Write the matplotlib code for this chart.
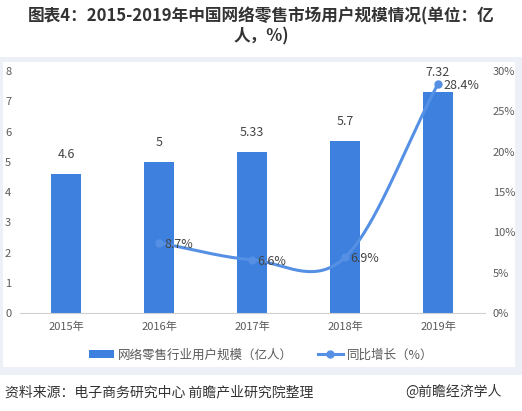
import numpy as np
import matplotlib
matplotlib.use("Agg")
import matplotlib.pyplot as plt
from matplotlib.patches import Rectangle
from matplotlib.lines import Line2D
from matplotlib.patches import Patch

plt.rcParams['font.family'] = ['Noto Sans CJK SC', 'DejaVu Sans']

years = ['2015年', '2016年', '2017年', '2018年', '2019年']
users = [4.6, 5, 5.33, 5.7, 7.32]
user_labels = ['4.6', '5', '5.33', '5.7', '7.32']
growth_years_idx = [1, 2, 3, 4]
growth = [8.7, 6.6, 6.9, 28.4]
growth_labels = ['8.7%', '6.6%', '6.9%', '28.4%']
left_ticks = [0, 1, 2, 3, 4, 5, 6, 7, 8]
right_ticks = [0, 5, 10, 15, 20, 25, 30]

bar_color = '#3d80de'
line_color = '#5590e4'
text_color = '#5a5a5a'

W, H = 522, 411
fig = plt.figure(figsize=(W / 100, H / 100), dpi=100)

# panel background
bg = fig.add_axes([0, 0, 1, 1], zorder=-10)
bg.set_xlim(0, W)
bg.set_ylim(H, 0)
bg.axis('off')
bg.add_patch(Rectangle((0, 57), W, 375 - 57, facecolor='#edf1f7', edgecolor='none'))
bg.add_patch(Rectangle((3, 62), 515 - 3, 367 - 62, facecolor='white', edgecolor='none'))

ax = fig.add_axes([19.5 / W, (H - 313) / H, (484.5 - 19.5) / W, (313 - 71) / H])
ax.patch.set_alpha(0)
x = np.arange(len(years))
ax.bar(x, users, width=0.32, color=bar_color, zorder=2)
for xi, v, lab in zip(x, users, user_labels):
    ax.annotate(lab, (xi, v), xytext=(0, 9), textcoords='offset points', ha='center', va='bottom',
                fontsize=9, color='#444444')
ax.set_xlim(-0.5, len(years) - 0.5)
ax.set_ylim(0, 8)
ax.set_yticks(left_ticks)
ax.set_xticks(x)
ax.set_xticklabels(years)
for s in ['top', 'right', 'left']:
    ax.spines[s].set_visible(False)
ax.spines['bottom'].set_color('#d0d0d0')
ax.tick_params(axis='both', length=0, labelsize=8, colors=text_color)
ax.tick_params(axis='y', pad=6)
ax.tick_params(axis='x', pad=6)

ax2 = ax.twinx()
ax2.set_ylim(0, 30)
ax2.set_yticks(right_ticks)
ax2.set_yticklabels([f'{t}%' for t in right_ticks])
for s in ax2.spines.values():
    s.set_visible(False)
ax2.tick_params(axis='y', length=0, labelsize=8, colors=text_color, pad=6)

# smooth curve (Catmull-Rom through data points)
gx = np.array([x[i] for i in growth_years_idx], dtype=float)
gy = np.array(growth, dtype=float)
n = len(gx)
tang = np.zeros(n)
for i in range(n):
    if i == 0:
        tang[i] = (gy[1] - gy[0]) / (gx[1] - gx[0])
    elif i == n - 1:
        tang[i] = (gy[-1] - gy[-2]) / (gx[-1] - gx[-2])
    else:
        tang[i] = (gy[i + 1] - gy[i - 1]) / (gx[i + 1] - gx[i - 1])
xs, ys = [], []
for i in range(n - 1):
    t = np.linspace(0, 1, 60)
    h = gx[i + 1] - gx[i]
    h00 = 2 * t**3 - 3 * t**2 + 1
    h10 = t**3 - 2 * t**2 + t
    h01 = -2 * t**3 + 3 * t**2
    h11 = t**3 - t**2
    xs.append(gx[i] + t * h)
    ys.append(h00 * gy[i] + h10 * h * tang[i] + h01 * gy[i + 1] + h11 * h * tang[i + 1])
xs = np.concatenate(xs)
ys = np.concatenate(ys)
ax2.plot(xs, ys, color=line_color, lw=2.2, zorder=3, solid_capstyle='round')
ax2.plot(gx, gy, 'o', color=line_color, ms=5, zorder=4)
for xi, v, lab in zip(gx, gy, growth_labels):
    ax2.annotate(lab, (xi, v), xytext=(4, -1), textcoords='offset points', ha='left', va='center',
                 fontsize=9, color='#444444')

# title
fig.text(0.5, 1 - 16 / H, '图表4：2015-2019年中国网络零售市场用户规模情况(单位：亿',
         ha='center', va='center', fontsize=12, fontweight='bold', color='#333333')
fig.text(0.5, 1 - 36 / H, '人，%)', ha='center', va='center', fontsize=12, fontweight='bold', color='#333333')

# legend
handles = [Patch(facecolor=bar_color, edgecolor='none'),
           Line2D([0], [0], color=line_color, lw=2.2, marker='o', ms=5)]
labels = ['网络零售行业用户规模（亿人）', '同比增长（%）']
fig.legend(handles, labels, loc='center', bbox_to_anchor=(0.5, 1 - 355 / H), ncol=2, frameon=False,
           fontsize=9, labelcolor=text_color, handlelength=2.0, handleheight=0.6, columnspacing=2.0,
           handletextpad=0.3)

# footer
fig.text(5 / W, 1 - 392 / H, '资料来源：电子商务研究中心 前瞻产业研究院整理', ha='left', va='center',
         fontsize=10, color='#333333')
fig.text(405 / W, 1 - 392 / H, '@前瞻经济学人', ha='left', va='center', fontsize=10, color='#333333')

fig.savefig('out.png', dpi=100)
